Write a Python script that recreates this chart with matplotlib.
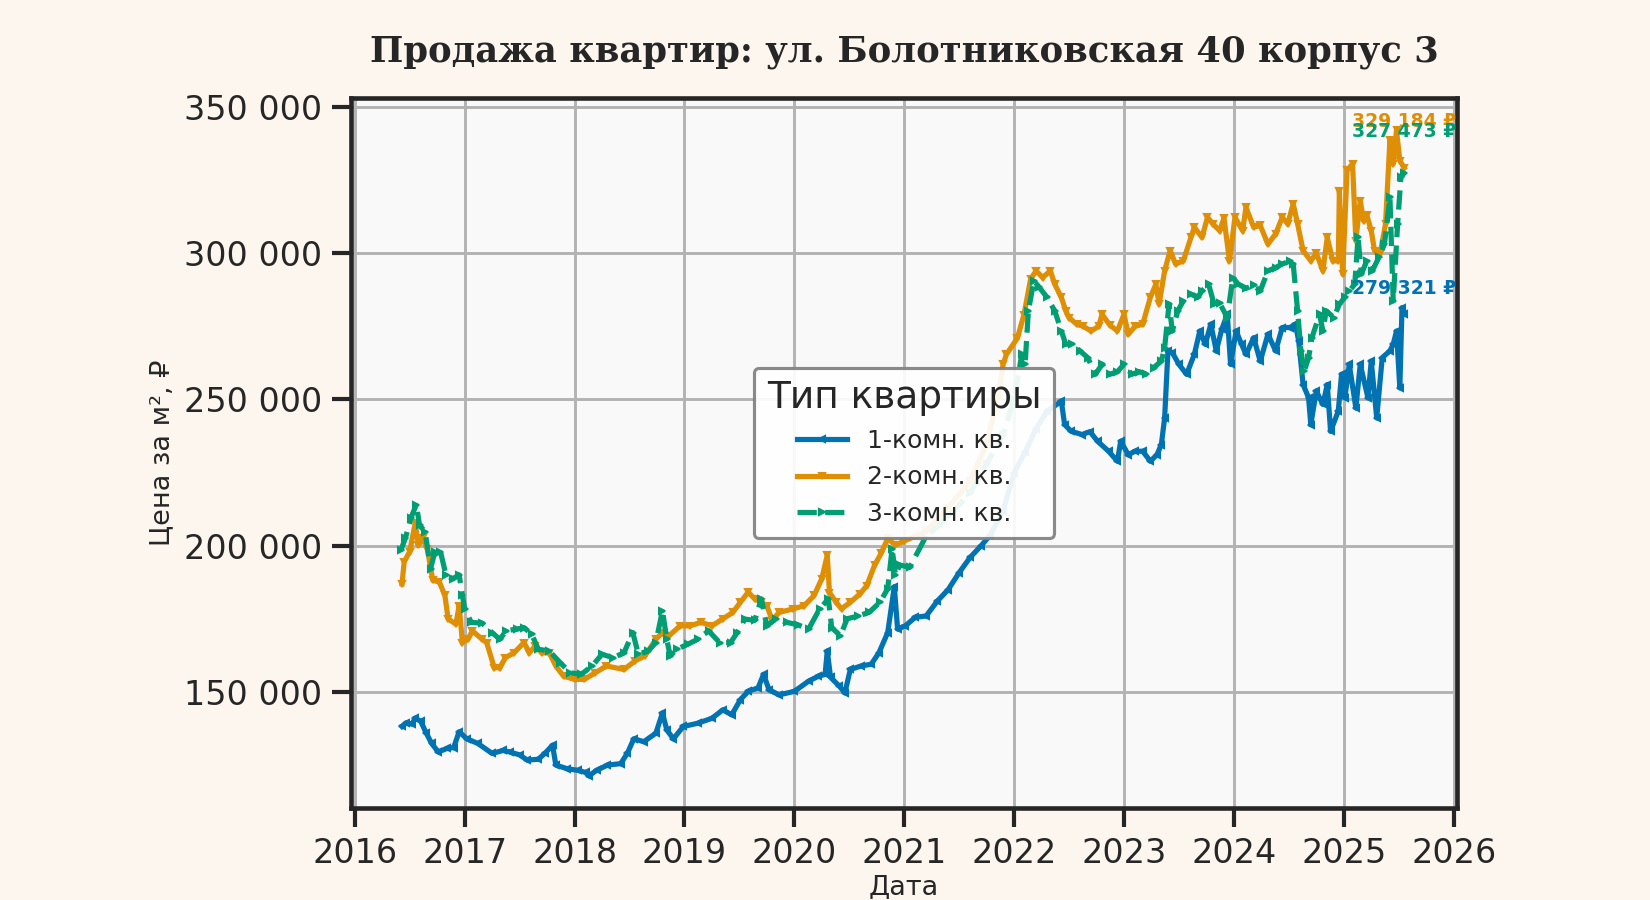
import matplotlib
matplotlib.use("Agg")
import matplotlib.pyplot as plt
from matplotlib.ticker import FuncFormatter, MultipleLocator

# ---------------- data (decimal year, price per m2 in thousands RUB) ----------------
x1 = [2016.43, 2016.47, 2016.52, 2016.55, 2016.60, 2016.65, 2016.70, 2016.76, 2016.84, 2016.90,
      2016.95, 2017.02, 2017.12, 2017.25, 2017.35, 2017.41, 2017.50, 2017.57, 2017.67, 2017.73,
      2017.80, 2017.83, 2017.93, 2018.03, 2018.10, 2018.13, 2018.20, 2018.30, 2018.42, 2018.48,
      2018.54, 2018.63, 2018.74, 2018.80, 2018.84, 2018.90, 2018.99, 2019.12, 2019.25, 2019.35,
      2019.43, 2019.51, 2019.58, 2019.67, 2019.72, 2019.77, 2019.86, 2020.00, 2020.13, 2020.22,
      2020.28, 2020.30, 2020.33, 2020.41, 2020.46, 2020.51, 2020.61, 2020.70, 2020.77, 2020.85,
      2020.91, 2020.94, 2021.01, 2021.10, 2021.20, 2021.30, 2021.40, 2021.50, 2021.60, 2021.70,
      2021.78, 2021.90, 2022.00, 2022.10, 2022.20, 2022.30, 2022.43, 2022.46, 2022.52, 2022.62,
      2022.69, 2022.76, 2022.86, 2022.94, 2022.97, 2023.04, 2023.10, 2023.17, 2023.24, 2023.30,
      2023.34, 2023.37, 2023.40, 2023.44, 2023.50, 2023.57, 2023.64, 2023.69, 2023.74, 2023.79,
      2023.84, 2023.89, 2023.94, 2023.97, 2024.02, 2024.07, 2024.11, 2024.18, 2024.24, 2024.31,
      2024.38, 2024.44, 2024.51, 2024.56, 2024.59, 2024.63, 2024.68, 2024.70, 2024.75, 2024.81,
      2024.85, 2024.88, 2024.95, 2024.98, 2025.01, 2025.05, 2025.11, 2025.15, 2025.22, 2025.25,
      2025.30, 2025.35, 2025.42, 2025.45, 2025.48, 2025.51, 2025.53, 2025.55]
y1 = [138.2, 139.5, 139.0, 141.0, 140.0, 136.0, 132.4, 129.5, 130.7, 131.0,
      136.4, 134.0, 132.4, 129.0, 130.0, 129.5, 128.5, 126.7, 127.0, 129.0,
      131.8, 125.0, 123.8, 123.2, 122.5, 121.3, 123.2, 125.0, 125.5, 129.0,
      134.0, 133.0, 135.9, 142.8, 137.0, 134.0, 138.2, 139.3, 141.0, 143.9,
      142.2, 147.4, 150.2, 151.4, 156.0, 150.8, 149.0, 150.2, 153.7, 155.4,
      156.0, 164.0, 155.0, 152.0, 149.7, 157.7, 158.9, 159.5, 163.4, 170.3,
      186.0, 171.5, 172.6, 175.5, 176.0, 181.0, 185.0, 190.8, 196.0, 200.0,
      203.5, 212.0, 225.0, 232.0, 240.0, 246.0, 249.4, 241.4, 239.1, 238.0,
      239.0, 235.7, 232.3, 228.9, 235.7, 231.1, 232.3, 232.3, 228.9, 231.1,
      234.6, 243.7, 266.6, 266.0, 262.0, 258.6, 265.4, 273.4, 268.9, 275.7,
      266.6, 274.0, 279.1, 262.0, 273.4, 268.9, 265.4, 271.1, 263.1, 272.3,
      266.6, 274.6, 274.6, 275.7, 270.0, 255.1, 250.6, 241.4, 252.9, 248.3,
      255.1, 239.1, 246.0, 258.6, 250.6, 262.0, 247.1, 262.0, 250.6, 263.1,
      243.7, 264.3, 266.6, 268.9, 273.4, 254.0, 281.4, 279.321]

x2 = [2016.43, 2016.45, 2016.50, 2016.55, 2016.58, 2016.62, 2016.66, 2016.71, 2016.77, 2016.82,
      2016.85, 2016.92, 2016.95, 2016.98, 2017.03, 2017.07, 2017.16, 2017.20, 2017.27, 2017.32,
      2017.37, 2017.45, 2017.54, 2017.59, 2017.64, 2017.70, 2017.77, 2017.83, 2017.90, 2018.00,
      2018.09, 2018.19, 2018.29, 2018.45, 2018.55, 2018.64, 2018.74, 2018.80, 2018.86, 2018.96,
      2019.05, 2019.15, 2019.25, 2019.35, 2019.44, 2019.51, 2019.58, 2019.64, 2019.70, 2019.75,
      2019.80, 2019.86, 2019.99, 2020.09, 2020.18, 2020.25, 2020.30, 2020.32, 2020.38, 2020.43,
      2020.51, 2020.60, 2020.66, 2020.73, 2020.79, 2020.85, 2020.92, 2021.00, 2021.20, 2021.40,
      2021.60, 2021.75, 2021.85, 2021.90, 2021.93, 2022.03, 2022.09, 2022.15, 2022.20, 2022.26,
      2022.33, 2022.37, 2022.43, 2022.47, 2022.50, 2022.57, 2022.63, 2022.70, 2022.77, 2022.80,
      2022.87, 2022.94, 2023.00, 2023.04, 2023.10, 2023.17, 2023.24, 2023.29, 2023.32, 2023.37,
      2023.42, 2023.47, 2023.54, 2023.61, 2023.64, 2023.71, 2023.76, 2023.81, 2023.87, 2023.91,
      2023.96, 2024.01, 2024.08, 2024.11, 2024.18, 2024.24, 2024.31, 2024.38, 2024.44, 2024.49,
      2024.54, 2024.58, 2024.63, 2024.70, 2024.75, 2024.81, 2024.85, 2024.90, 2024.95, 2024.96,
      2024.99, 2025.03, 2025.08, 2025.11, 2025.15, 2025.18, 2025.21, 2025.25, 2025.28, 2025.33,
      2025.38, 2025.42, 2025.45, 2025.48, 2025.51, 2025.55]
y2 = [187.0, 194.5, 198.0, 207.7, 200.2, 202.5, 199.0, 188.2, 187.6, 183.0,
      175.0, 173.2, 179.5, 166.9, 168.0, 170.9, 168.0, 166.9, 158.3, 158.3,
      161.7, 163.4, 166.9, 163.4, 165.7, 163.4, 163.4, 158.9, 155.4, 154.3,
      154.3, 156.6, 158.9, 157.7, 160.6, 162.3, 168.0, 170.3, 169.2, 172.6,
      172.6, 173.8, 172.6, 175.0, 177.2, 180.7, 184.1, 181.8, 180.7, 179.5,
      174.4, 177.2, 178.4, 179.5, 183.0, 188.7, 196.8, 184.0, 180.7, 178.4,
      180.7, 183.6, 186.4, 193.3, 197.4, 202.5, 200.2, 201.6, 205.0, 213.0,
      222.0, 235.0, 250.0, 262.0, 265.4, 271.0, 279.0, 291.1, 294.0, 291.7,
      294.0, 289.4, 284.9, 280.3, 278.0, 275.7, 275.0, 273.4, 275.0, 279.1,
      275.5, 273.4, 279.1, 272.3, 275.0, 275.7, 284.9, 289.4, 282.6, 294.0,
      300.9, 296.3, 297.4, 305.4, 308.9, 305.4, 312.3, 310.0, 307.7, 312.0,
      297.4, 312.3, 307.7, 315.7, 308.9, 309.5, 303.1, 306.6, 312.3, 310.0,
      316.9, 310.0, 300.9, 297.4, 300.0, 294.0, 305.4, 297.4, 297.4, 321.4,
      292.9, 328.3, 330.6, 304.3, 318.0, 311.1, 313.0, 307.7, 300.9, 299.7,
      310.0, 338.6, 330.6, 342.0, 331.7, 329.184]

x3 = [2016.42, 2016.46, 2016.51, 2016.56, 2016.59, 2016.64, 2016.69, 2016.73, 2016.78, 2016.83,
      2016.89, 2016.95, 2016.98, 2017.00, 2017.06, 2017.16, 2017.25, 2017.32, 2017.38, 2017.48,
      2017.54, 2017.61, 2017.67, 2017.77, 2017.87, 2017.96, 2018.06, 2018.16, 2018.25, 2018.35,
      2018.45, 2018.53, 2018.58, 2018.67, 2018.74, 2018.80, 2018.84, 2018.87, 2018.93, 2019.03,
      2019.12, 2019.22, 2019.32, 2019.42, 2019.48, 2019.55, 2019.64, 2019.70, 2019.75, 2019.83,
      2019.93, 2020.03, 2020.13, 2020.23, 2020.31, 2020.34, 2020.42, 2020.48, 2020.58, 2020.68,
      2020.78, 2020.85, 2020.89, 2020.92, 2020.96, 2021.05, 2021.19, 2021.40, 2021.60, 2021.75,
      2021.90, 2022.00, 2022.07, 2022.10, 2022.13, 2022.18, 2022.23, 2022.30, 2022.37, 2022.43,
      2022.47, 2022.53, 2022.60, 2022.67, 2022.74, 2022.80, 2022.87, 2022.94, 2023.00, 2023.07,
      2023.14, 2023.20, 2023.27, 2023.34, 2023.37, 2023.41, 2023.44, 2023.49, 2023.54, 2023.61,
      2023.67, 2023.71, 2023.77, 2023.82, 2023.87, 2023.94, 2023.99, 2024.04, 2024.11, 2024.18,
      2024.24, 2024.31, 2024.38, 2024.44, 2024.51, 2024.54, 2024.58, 2024.61, 2024.64, 2024.68,
      2024.71, 2024.78, 2024.81, 2024.84, 2024.91, 2024.96, 2025.01, 2025.05, 2025.10, 2025.13,
      2025.16, 2025.21, 2025.26, 2025.32, 2025.37, 2025.42, 2025.45, 2025.49, 2025.52, 2025.55]
y3 = [198.5, 202.5, 209.4, 214.0, 207.0, 204.8, 192.2, 198.0, 198.0, 190.0,
      188.7, 190.0, 183.0, 178.4, 173.8, 173.5, 170.3, 168.0, 171.0, 171.5,
      172.0, 169.8, 164.6, 164.0, 160.0, 156.6, 156.0, 158.9, 162.9, 161.7,
      163.4, 170.3, 163.0, 164.0, 166.9, 177.8, 168.0, 162.3, 164.6, 166.3,
      168.0, 170.9, 166.9, 166.9, 170.3, 174.9, 174.5, 181.8, 172.6, 174.9,
      173.8, 173.0, 171.5, 178.4, 181.8, 172.0, 169.2, 175.0, 176.0, 177.2,
      180.7, 185.3, 199.0, 190.0, 193.4, 192.6, 202.6, 210.0, 218.0, 228.0,
      238.0, 250.0, 265.4, 262.0, 280.3, 290.6, 288.3, 284.9, 280.3, 273.4,
      268.9, 268.9, 266.6, 264.3, 258.6, 262.0, 258.6, 259.5, 262.0, 258.6,
      259.5, 258.6, 260.9, 263.1, 267.7, 282.6, 273.4, 280.3, 283.7, 286.0,
      284.9, 287.1, 289.4, 282.6, 283.0, 278.0, 291.7, 289.4, 288.0, 289.0,
      287.1, 294.0, 295.1, 296.3, 297.4, 296.3, 280.3, 266.6, 259.7, 264.3,
      271.1, 279.1, 273.4, 280.3, 278.0, 282.6, 284.9, 287.1, 289.4, 305.4,
      292.9, 297.4, 294.0, 298.6, 303.1, 319.1, 283.7, 310.0, 326.0, 327.473]

series_names = ["1-комн. кв.", "2-комн. кв.", "3-комн. кв."]
series_x = [x1, x2, x3]
series_y = [y1, y2, y3]
last_labels = ["279 321 ₽", "329 184 ₽", "327 473 ₽"]
label_y = [288.0, 345.0, 341.5]      # label placement (thousands)

# ---------------- style ----------------
colors = ["#0173b2", "#de8f05", "#029e73"]
styles = ["-", "-", "--"]
markers = ["<", "v", ">"]
ink = "#262626"

plt.rcParams["font.family"] = ["DejaVu Sans"]
plt.rcParams["text.color"] = ink
plt.rcParams["axes.labelcolor"] = ink
plt.rcParams["xtick.color"] = ink
plt.rcParams["ytick.color"] = ink

fig = plt.figure(figsize=(11, 6), dpi=150, facecolor="#fdf6ee")
ax = fig.add_axes([0.213, 0.102, 0.670, 0.789])
ax.set_facecolor("#f9f9f9")

for xs, ys, name, c, ls, mk in zip(series_x, series_y, series_names, colors, styles, markers):
    ax.plot(xs, [v * 1000 for v in ys], color=c, linestyle=ls, linewidth=2.5,
            marker=mk, markersize=3, label=name, zorder=3)

for xs, ys, txt, ly, c in zip(series_x, series_y, last_labels, label_y, colors):
    ax.text(xs[-1], ly * 1000, txt, color=c, fontsize=9, fontweight="bold",
            ha="center", va="center", zorder=4)

ax.set_xlim(2015.97, 2026.03)
ax.xaxis.set_major_locator(MultipleLocator(1))
ax.xaxis.set_major_formatter(FuncFormatter(lambda v, p: f"{int(round(v))}"))
ax.yaxis.set_major_locator(MultipleLocator(50000))
ax.yaxis.set_major_formatter(FuncFormatter(lambda v, p: f"{v:,.0f}".replace(",", " ")))
ax.margins(y=0.05)

ax.grid(True, color="#b3b3b3", linewidth=1.4)
ax.set_axisbelow(True)
for s in ax.spines.values():
    s.set_color(ink)
    s.set_linewidth(2.2)
ax.tick_params(axis="both", which="major", direction="out", length=9, width=2.0,
               labelsize=16, pad=5)

ax.set_xlabel("Дата", fontsize=13, labelpad=2)
ax.set_ylabel("Цена за м², ₽", fontsize=13)
ax.set_title("Продажа квартир: ул. Болотниковская 40 корпус 3", fontsize=17,
             fontweight="bold", family="DejaVu Serif", pad=17.5)

leg = ax.legend(loc="center", title="Тип квартиры", fontsize=12, title_fontsize=18,
                frameon=True, facecolor="white", edgecolor="#808080", framealpha=0.92,
                borderpad=0.5, labelspacing=0.5)
leg.get_frame().set_linewidth(1.5)
leg.set_zorder(5)

fig.savefig("out.png", dpi=150, facecolor=fig.get_facecolor())
